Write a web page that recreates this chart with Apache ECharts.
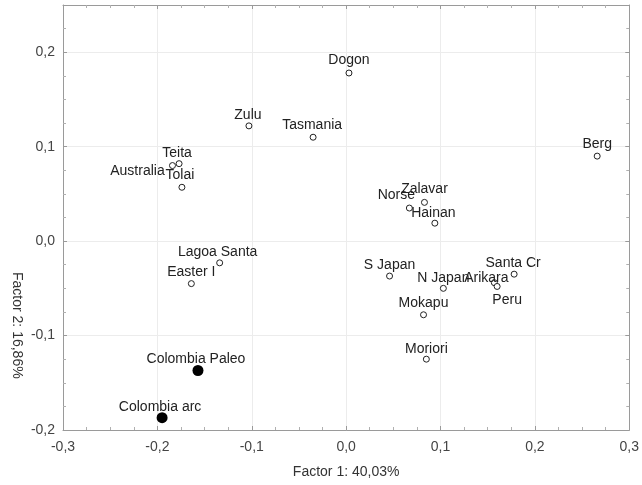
<!DOCTYPE html>
<html>
<head>
<meta charset="utf-8">
<script src="https://cdn.jsdelivr.net/npm/echarts@6/dist/echarts.min.js"></script>
<style>html,body{margin:0;padding:0;background:#fff;}#c{width:642px;height:485px;}</style>
</head>
<body>
<div id="c"></div>
<script>
// ---- data ----
const names = ["Dogon","Zulu","Tasmania","Berg","Teita","Australia","Tolai","Zalavar","Norse","Hainan",
  "Lagoa Santa","Easter I","S Japan","N Japan","Arikara","Peru","Santa Cr","Mokapu","Moriori"];
const factor1 = [0.003,-0.103,-0.035,0.266,-0.177,-0.184,-0.174,0.083,0.067,0.094,
  -0.134,-0.164,0.046,0.103,0.157,0.160,0.178,0.082,0.085];
const factor2 = [0.178,0.122,0.110,0.090,0.082,0.080,0.057,0.041,0.035,0.019,
  -0.023,-0.045,-0.037,-0.050,-0.044,-0.048,-0.035,-0.078,-0.125];
const colNames = ["Colombia Paleo","Colombia arc"];
const colFactor1 = [-0.157,-0.195];
const colFactor2 = [-0.137,-0.187];
const xTicks = [-0.3,-0.2,-0.1,0.0,0.1,0.2,0.3];
const yTicks = [-0.2,-0.1,0.0,0.1,0.2];

// label placement (pixels, relative to the point)
const labelOffsets = {
  "Dogon":[0,-12.5],"Zulu":[-1,-11],"Tasmania":[-1,-12],"Berg":[0,-12],"Teita":[-2,-11],
  "Australia":[-35,6],"Tolai":[-2,-12.5],"Zalavar":[0,-13],"Norse":[-13,-12.5],"Hainan":[-1.5,-10],
  "Lagoa Santa":[-2,-11],"Easter I":[0,-11],"S Japan":[0,-11],"N Japan":[0,-10.5],"Arikara":[-8,-5],
  "Peru":[10,14],"Santa Cr":[-1,-11],"Mokapu":[0,-12],"Moriori":[0,-10.5],
  "Colombia Paleo":[-2,-11.5],"Colombia arc":[-2,-11]
};

const FONT = "Liberation Sans, Arial, sans-serif";
const fmt = v => {
  const r = Math.round(v*10)/10;
  if (Math.abs(v - r) > 1e-6) return '';
  return r.toFixed(1).replace('.', ',');
};
const inTicks = (arr, v) => arr.some(t => Math.abs(t - v) < 1e-6);

function mk(nm, xs, ys) {
  return nm.map((n, i) => ({
    name: n, value: [xs[i], ys[i]],
    label: { show: true, position: 'inside', offset: labelOffsets[n], formatter: '{b}' }
  }));
}

const axisBase = {
  axisLine: { show: true, onZero: false, lineStyle: { color: '#9a9a9a', width: 1 } },
  axisTick: { show: true, inside: true, length: 4, lineStyle: { color: '#9a9a9a' } },
  minorTick: { show: true, splitNumber: 4, length: 3, lineStyle: { color: '#b0b0b0' } }
};

const chart = echarts.init(document.getElementById('c'), null, { renderer: 'canvas' });
chart.setOption({
  animation: false,
  backgroundColor: '#fff',
  textStyle: { fontFamily: FONT },
  grid: { left: 63, right: 8, top: 5, bottom: 55, containLabel: false },
  xAxis: [
    Object.assign({}, axisBase, {
      type: 'value', min: -0.3, max: 0.3, interval: 0.1, position: 'bottom',
      name: 'Factor 1: 40,03%', nameLocation: 'middle', nameGap: 35,
      nameTextStyle: { fontFamily: FONT, fontSize: 14, color: '#333' },
      axisLabel: { margin: 10, fontFamily: FONT, fontSize: 14, color: '#444',
        formatter: v => inTicks(xTicks, v) ? fmt(v) : '' },
      splitLine: { show: true, lineStyle: { color: '#ececec', width: 1 } }
    }),
    Object.assign({}, axisBase, {
      type: 'value', min: -0.3, max: 0.3, interval: 0.1, position: 'top',
      axisLabel: { show: false }, splitLine: { show: false }
    })
  ],
  yAxis: [
    Object.assign({}, axisBase, {
      type: 'value', min: -0.2, max: 0.25, interval: 0.1, position: 'left',
      axisLabel: { margin: 8, fontFamily: FONT, fontSize: 14, color: '#444',
        formatter: v => inTicks(yTicks, v) ? fmt(v) : '' },
      splitLine: { show: true, lineStyle: { color: '#ececec', width: 1 } }
    }),
    Object.assign({}, axisBase, {
      type: 'value', min: -0.2, max: 0.25, interval: 0.1, position: 'right',
      axisLabel: { show: false }, splitLine: { show: false }
    })
  ],
  graphic: [{
    type: 'text', left: 10, top: 272, rotation: -Math.PI / 2,
    originX: 0, originY: 0,
    style: { text: 'Factor 2: 16,86%', fontFamily: FONT, fontSize: 14, fill: '#333' }
  }],
  series: [
    {
      type: 'scatter', name: 'samples', data: mk(names, factor1, factor2),
      symbol: 'circle', symbolSize: 6,
      itemStyle: { color: '#fff', borderColor: '#222', borderWidth: 1, opacity: 1 },
      label: { color: '#222', fontFamily: FONT, fontSize: 14 },
      z: 3
    },
    {
      type: 'scatter', name: 'colombia', data: mk(colNames, colFactor1, colFactor2),
      symbol: 'circle', symbolSize: 11,
      itemStyle: { color: '#000', borderColor: '#000', borderWidth: 0, opacity: 1 },
      label: { color: '#222', fontFamily: FONT, fontSize: 14 },
      z: 3
    }
  ]
});
</script>
</body>
</html>
